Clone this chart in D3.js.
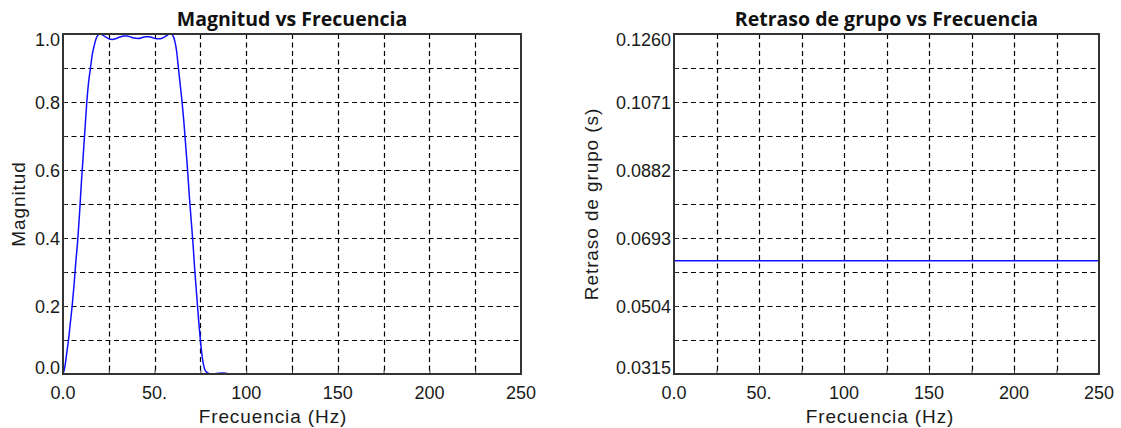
<!DOCTYPE html>
<html>
<head>
<meta charset="utf-8">
<script src="https://cdn.jsdelivr.net/npm/d3@7"></script>
<style>
  body { margin: 0; background: #fff; }
  svg { display: block; }
  .tick-label { font-family: "Liberation Sans", Arial, sans-serif; font-size: 18px; fill: #1a1a1a; }
  .axis-title { font-family: "Liberation Sans", Arial, sans-serif; font-size: 19px; fill: #1a1a1a; letter-spacing: 0.9px; }
  .chart-title { font-family: "Open Sans", sans-serif; font-size: 19.5px; font-weight: bold; fill: #111; }
</style>
</head>
<body>
<svg id="chart" width="1121" height="428"></svg>
<script>
// magnitude response (Hz, |H|)
const freq = [0, 1, 2, 3, 4, 5, 6, 7, 8, 9, 10, 11, 12, 13, 14, 15, 16, 17, 18, 19, 20, 21,
  23, 25, 27, 29, 31, 33, 35, 37, 39, 41, 43, 45, 47, 49, 51, 53, 55, 57, 58, 59, 60,
  61, 62, 63, 64, 65, 66, 67, 68, 69, 70, 71, 72, 73, 74, 75, 76, 77, 78, 80, 83, 87, 90, 95, 100, 150, 200, 250];
const magnitude = [0, 0.02, 0.06, 0.10, 0.15, 0.20, 0.26, 0.33, 0.39, 0.47, 0.56, 0.64, 0.72, 0.80, 0.86, 0.90, 0.94, 0.965, 0.985, 0.996, 1.0, 0.999,
  0.992, 0.986, 0.984, 0.987, 0.991, 0.994, 0.994, 0.991, 0.988, 0.987, 0.989, 0.992, 0.992, 0.989, 0.986, 0.986, 0.99, 0.997, 1.0, 1.0, 0.995,
  0.98, 0.95, 0.90, 0.85, 0.80, 0.74, 0.67, 0.60, 0.52, 0.45, 0.38, 0.30, 0.23, 0.16, 0.10, 0.05, 0.02, 0.007, 0.001, 0.001, 0.003, 0.001, 0, 0, 0, 0, 0];

// group delay is constant
const delayFreq = [0, 250];
const groupDelay = [0.063, 0.063];

const xTicks = [0, 50, 100, 150, 200, 250];
const xTickLabels = ["0.0", "50.", "100", "150", "200", "250"];
const magTicks = [0, 0.2, 0.4, 0.6, 0.8, 1.0];
const magTickLabels = ["0.0", "0.2", "0.4", "0.6", "0.8", "1.0"];
const delayTicks = [0.0315, 0.0504, 0.0693, 0.0882, 0.1071, 0.1260];
const delayTickLabels = ["0.0315", "0.0504", "0.0693", "0.0882", "0.1071", "0.1260"];

const svg = d3.select("#chart");

function drawPanel(opt) {
  const x = d3.scaleLinear().domain([0, 250]).range([opt.left, opt.right]);
  const y = d3.scaleLinear().domain(opt.yDomain).range([opt.bottom, opt.top]);
  const g = svg.append("g");

  // dashed grid, every 25 Hz and every half y step
  const xGrid = d3.range(25, 250, 25);
  const yStep = (opt.yDomain[1] - opt.yDomain[0]) / 10;
  const yGrid = d3.range(1, 10).map(function(i) { return opt.yDomain[0] + i * yStep; });

  g.selectAll(".vgrid").data(xGrid).enter().append("line")
    .attr("x1", function(d) { return Math.round(x(d)) + 0.5; })
    .attr("x2", function(d) { return Math.round(x(d)) + 0.5; })
    .attr("y1", opt.top).attr("y2", opt.bottom)
    .attr("stroke", "#000").attr("stroke-width", 1.2)
    .attr("stroke-dasharray", "5,3.5");

  g.selectAll(".hgrid").data(yGrid).enter().append("line")
    .attr("y1", function(d) { return Math.round(y(d)) + 0.5; })
    .attr("y2", function(d) { return Math.round(y(d)) + 0.5; })
    .attr("x1", opt.left).attr("x2", opt.right)
    .attr("stroke", "#000").attr("stroke-width", 1.2)
    .attr("stroke-dasharray", "5,3.5");

  // inward ticks
  g.append("g").attr("transform", "translate(0," + opt.bottom + ")")
    .call(d3.axisTop(x).tickValues(xGrid).tickSize(4).tickFormat(""))
    .call(function(a) { a.select(".domain").remove(); a.selectAll("line").attr("stroke", "#333"); });
  g.append("g").attr("transform", "translate(" + opt.left + ",0)")
    .call(d3.axisRight(y).tickValues(yGrid).tickSize(4).tickFormat(""))
    .call(function(a) { a.select(".domain").remove(); a.selectAll("line").attr("stroke", "#333"); });

  // data line
  const line = d3.line()
    .x(function(d) { return x(d[0]); })
    .y(function(d) { return y(d[1]); })
    .curve(d3.curveMonotoneX);
  g.append("path")
    .datum(d3.zip(opt.xs, opt.ys))
    .attr("d", line)
    .attr("fill", "none")
    .attr("stroke", "#1010ff")
    .attr("stroke-width", 1.5);

  // frame
  g.append("rect")
    .attr("x", opt.left).attr("y", opt.top)
    .attr("width", opt.right - opt.left).attr("height", opt.bottom - opt.top)
    .attr("fill", "none").attr("stroke", "#333").attr("stroke-width", 2);

  // x tick labels
  g.selectAll(".xlab").data(xTicks).enter().append("text")
    .attr("class", "tick-label")
    .attr("x", function(d) { return x(d); })
    .attr("y", 399)
    .attr("text-anchor", "middle")
    .text(function(d, i) { return xTickLabels[i]; });

  // y tick labels, end ones pushed inside the frame
  const n = opt.yTicks.length;
  g.selectAll(".ylab").data(opt.yTicks).enter().append("text")
    .attr("class", "tick-label")
    .attr("x", opt.left - 3)
    .attr("y", function(d, i) {
      if (i === 0) return opt.bottom;
      if (i === n - 1) return opt.top + 12;
      return y(d) + 6.5;
    })
    .attr("text-anchor", "end")
    .text(function(d, i) { return opt.yLabels[i]; });

  g.append("text").attr("class", "axis-title")
    .attr("x", opt.xTitleX).attr("y", 423)
    .attr("text-anchor", "middle")
    .text("Frecuencia (Hz)");

  g.append("text").attr("class", "axis-title")
    .attr("transform", "translate(" + opt.yTitleX + "," + ((opt.top + opt.bottom) / 2) + ") rotate(-90)")
    .attr("text-anchor", "middle")
    .text(opt.yTitle);

  g.append("text").attr("class", "chart-title")
    .attr("x", (opt.left + opt.right) / 2).attr("y", 26)
    .attr("text-anchor", "middle")
    .text(opt.title);
}

drawPanel({
  left: 63, right: 521, top: 34, bottom: 374,
  yDomain: [0, 1],
  xs: freq, ys: magnitude,
  yTicks: magTicks, yLabels: magTickLabels,
  yTitle: "Magnitud", yTitleX: 25, xTitleX: 273,
  title: "Magnitud vs Frecuencia"
});

drawPanel({
  left: 674, right: 1099, top: 34, bottom: 374,
  yDomain: [0.0315, 0.1260],
  xs: delayFreq, ys: groupDelay,
  yTicks: delayTicks, yLabels: delayTickLabels,
  yTitle: "Retraso de grupo (s)", yTitleX: 598, xTitleX: 880,
  title: "Retraso de grupo vs Frecuencia"
});
</script>
</body>
</html>
